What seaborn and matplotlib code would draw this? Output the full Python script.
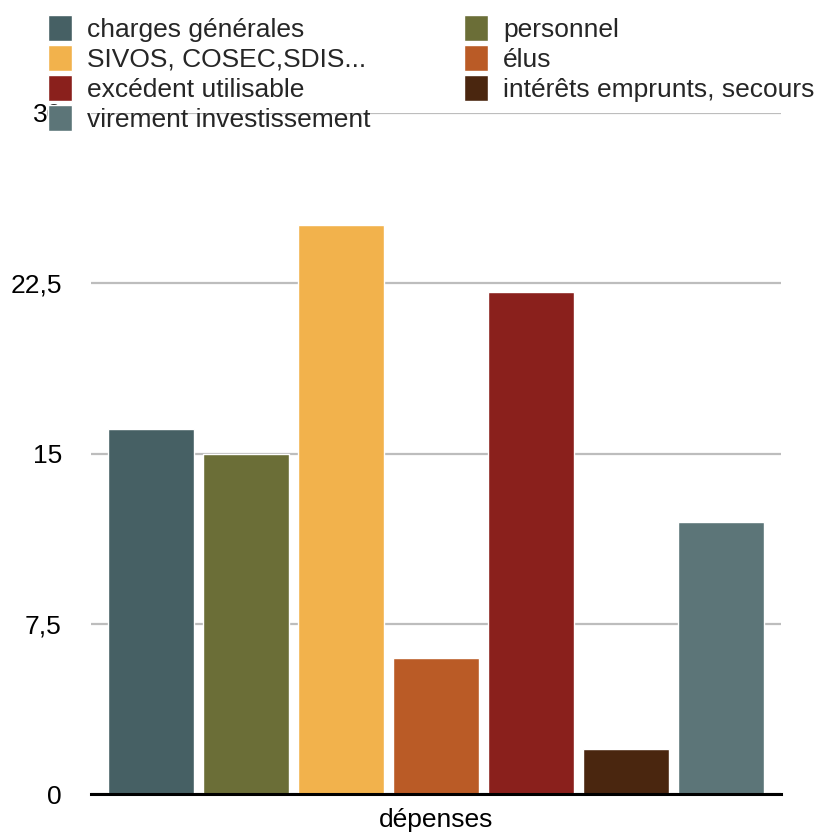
import pandas as pd
import numpy as np
import matplotlib.pyplot as plt
import seaborn as sns
from matplotlib.ticker import FuncFormatter

# Données
postes = ['charges générales', 'personnel', 'SIVOS, COSEC,SDIS...', 'élus',
          'excédent utilisable', 'intérêts emprunts, secours', 'virement investissement']
valeurs = [16.1, 15.0, 25.05, 6.0, 22.1, 2.0, 12.0]
couleurs = ['#466064', '#6b6e37', '#f2b24c', '#ba5b26', '#8a201c', '#4a260f', '#5c7578']
categorie = 'dépenses'
yticks = [0, 7.5, 15, 22.5, 30]

df = pd.DataFrame({'cat': [categorie] * len(postes), 'poste': postes, 'valeur': valeurs})

sns.set_style('white')
plt.rcParams['font.family'] = ['Liberation Sans', 'DejaVu Sans']

fig = plt.figure(figsize=(8.24, 8.34), dpi=100)
ax = fig.add_axes([91 / 824, 40 / 834, 690 / 824, 681 / 834])

sns.barplot(data=df, x='cat', y='valeur', hue='poste', hue_order=postes,
            palette=couleurs, width=0.964, gap=0.095, saturation=1, ax=ax)

handles, labels = ax.get_legend_handles_labels()
ax.get_legend().remove()

ax.set_ylim(0, 30)
ax.set_xlim(-0.5, 0.5)
ax.set_yticks(yticks)
ax.yaxis.set_major_formatter(FuncFormatter(lambda v, p: ('%g' % v).replace('.', ',')))
ax.yaxis.grid(True, color='#bdbdbd', linewidth=1.6)
ax.set_axisbelow(True)
ax.set_xlabel('')
ax.set_ylabel('')
for s in ['top', 'right', 'left']:
    ax.spines[s].set_visible(False)
ax.spines['bottom'].set_color('black')
ax.spines['bottom'].set_linewidth(2.2)
ax.spines['bottom'].set_zorder(5)
ax.tick_params(axis='y', length=0, pad=21, labelsize=19, colors='black')
ax.tick_params(axis='x', length=0, pad=10, labelsize=19, colors='black')

# deux colonnes de légende
ordre1 = [0, 2, 4, 6]
ordre2 = [1, 3, 5]
kw = dict(loc='upper left', frameon=False, fontsize=19, borderpad=0, borderaxespad=0,
          handlelength=0.91, handleheight=1.15, handletextpad=0.57, labelspacing=0.11)
leg1 = fig.legend([handles[i] for i in ordre1], [labels[i] for i in ordre1],
                  bbox_to_anchor=(48 / 824, 1 - 15 / 834), **kw)
leg2 = fig.legend([handles[i] for i in ordre2], [labels[i] for i in ordre2],
                  bbox_to_anchor=(464 / 824, 1 - 15 / 834), **kw)

fig.savefig('out.png', dpi=100)
